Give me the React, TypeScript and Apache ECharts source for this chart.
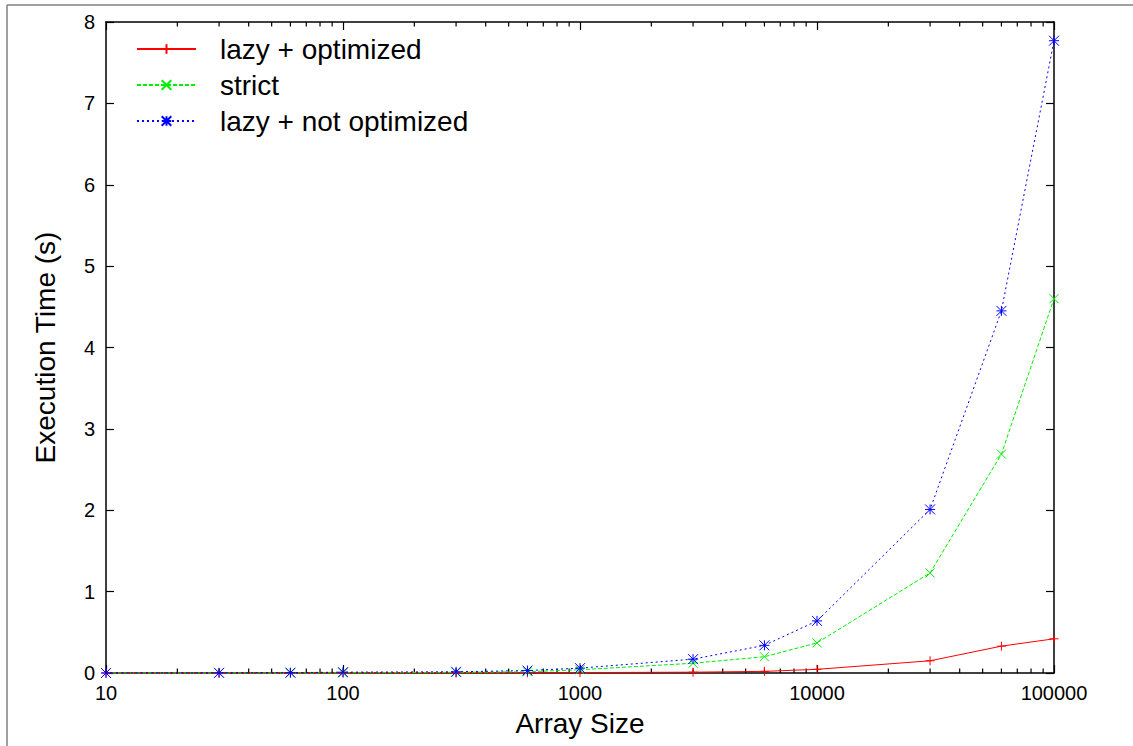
import React, { useEffect, useRef } from "react";
import * as echarts from "echarts";

const arraySizes = [10, 30, 60, 100, 300, 600, 1000, 3000, 6000, 10000, 30000, 60000, 100000];
const lazyOptimized = [0, 0, 0, 0, 0, 0.002, 0.005, 0.01, 0.02, 0.045, 0.15, 0.33, 0.42];
const strict = [0, 0, 0, 0.003, 0.008, 0.015, 0.04, 0.12, 0.2, 0.37, 1.23, 2.69, 4.6];
const lazyNotOptimized = [0, 0.002, 0.004, 0.01, 0.015, 0.03, 0.06, 0.17, 0.34, 0.64, 2.01, 4.45, 7.77];
const seriesNames = ["lazy + optimized", "strict", "lazy + not optimized"];
const minorTickValues = [
  20, 30, 40, 50, 60, 70, 80, 90,
  200, 300, 400, 500, 600, 700, 800, 900,
  2000, 3000, 4000, 5000, 6000, 7000, 8000, 9000,
  20000, 30000, 40000, 50000, 60000, 70000, 80000, 90000,
];

const FONT = "'Liberation Sans', Arial, Helvetica, sans-serif";

const plusSym = "path://M0,5L10,5M5,0L5,10";
const crossSym = "path://M0,0L10,10M0,10L10,0";
const starSym = "path://M0,0L10,10M0,10L10,0M5,0L5,10M0,5L10,5";

function pairs(ys: number[]) {
  return arraySizes.map((x, i) => [x, ys[i]]);
}

export default function App() {
  const ref = useRef<HTMLDivElement>(null);
  useEffect(() => {
    if (!ref.current) return;
    const chart = echarts.init(ref.current, undefined, { renderer: "svg" });
    const axisLine = { show: true, onZero: false, lineStyle: { color: "#000", width: 1.5 } };
    const xTick = { show: true, inside: true, length: 8, lineStyle: { color: "#000", width: 1.2 } };
    chart.setOption({
      animation: false,
      backgroundColor: "#fff",
      grid: { left: 106, top: 22, right: 79, bottom: 73 },
      graphic: [
        { type: "line", shape: { x1: 7, y1: 5, x2: 7, y2: 746 }, style: { stroke: "#808080", lineWidth: 1.5 } },
        { type: "line", shape: { x1: 7, y1: 5, x2: 1133, y2: 5 }, style: { stroke: "#808080", lineWidth: 1.5 } },
      ],
      legend: {
        data: seriesNames,
        orient: "vertical",
        left: 131,
        top: 29,
        itemWidth: 59,
        itemHeight: 12,
        itemGap: 6,
        textStyle: { fontFamily: FONT, fontSize: 28, color: "#000", lineHeight: 30, padding: [0, 0, 0, 19] },
      },
      xAxis: [
        {
          type: "log",
          logBase: 10,
          min: 10,
          max: 100000,
          position: "bottom",
          axisLine,
          axisTick: xTick,
          splitLine: { show: false },
          axisLabel: {
            margin: 10,
            fontFamily: FONT,
            fontSize: 20,
            color: "#000",
            formatter: (v: number) => String(Math.round(v)),
          },
          name: "Array Size",
          nameLocation: "middle",
          nameGap: 36,
          nameTextStyle: { fontFamily: FONT, fontSize: 28, color: "#000" },
        },
        {
          type: "log",
          logBase: 10,
          min: 10,
          max: 100000,
          position: "top",
          axisLine,
          axisTick: xTick,
          splitLine: { show: false },
          axisLabel: { show: false },
        },
      ],
      yAxis: [
        {
          type: "value",
          min: 0,
          max: 8,
          interval: 1,
          position: "left",
          axisLine,
          axisTick: xTick,
          splitLine: { show: false },
          axisLabel: { margin: 11, fontFamily: FONT, fontSize: 20, color: "#000" },
          name: "Execution Time (s)",
          nameLocation: "middle",
          nameGap: 47,
          nameTextStyle: { fontFamily: FONT, fontSize: 28, color: "#000" },
        },
        {
          type: "value",
          min: 0,
          max: 8,
          interval: 1,
          position: "right",
          axisLine,
          axisTick: xTick,
          splitLine: { show: false },
          axisLabel: { show: false },
        },
      ],
      series: [
        {
          type: "custom",
          name: "minorTicks",
          xAxisIndex: 0,
          yAxisIndex: 0,
          silent: true,
          clip: false,
          data: minorTickValues.map((v) => [v]),
          encode: { x: 0 },
          renderItem: (params: any, api: any) => {
            const v = api.value(0);
            const b = api.coord([v, 0]);
            const t = api.coord([v, 8]);
            const st = { stroke: "#000", lineWidth: 1.2 };
            return {
              type: "group",
              children: [
                { type: "line", shape: { x1: b[0], y1: b[1], x2: b[0], y2: b[1] - 4.5 }, style: st },
                { type: "line", shape: { x1: t[0], y1: t[1], x2: t[0], y2: t[1] + 4.5 }, style: st },
              ],
            };
          },
        },
        {
          type: "line",
          name: seriesNames[0],
          data: pairs(lazyOptimized),
          symbol: plusSym,
          symbolSize: 9,
          showAllSymbol: true,
          clip: false,
          color: "#ff0000",
          lineStyle: { color: "#ff0000", width: 1, type: "solid" },
          itemStyle: { color: "#ff0000", borderColor: "#ff0000", borderWidth: 1 },
        },
        {
          type: "line",
          name: seriesNames[1],
          data: pairs(strict),
          symbol: crossSym,
          symbolSize: 9,
          showAllSymbol: true,
          clip: false,
          color: "#00ee00",
          lineStyle: { color: "#00ee00", width: 1, type: [4, 2] },
          itemStyle: { color: "#00ee00", borderColor: "#00ee00", borderWidth: 1 },
        },
        {
          type: "line",
          name: seriesNames[2],
          data: pairs(lazyNotOptimized),
          symbol: starSym,
          symbolSize: 10,
          showAllSymbol: true,
          clip: false,
          color: "#0000ff",
          lineStyle: { color: "#0000ff", width: 1, type: [2, 3] },
          itemStyle: { color: "#0000ff", borderColor: "#0000ff", borderWidth: 1 },
        },
      ],
    });
    return () => chart.dispose();
  }, []);
  return (
    <div
      ref={ref}
      style={{ position: "fixed", left: 0, top: 0, width: 1133, height: 746, background: "#fff" }}
    />
  );
}
